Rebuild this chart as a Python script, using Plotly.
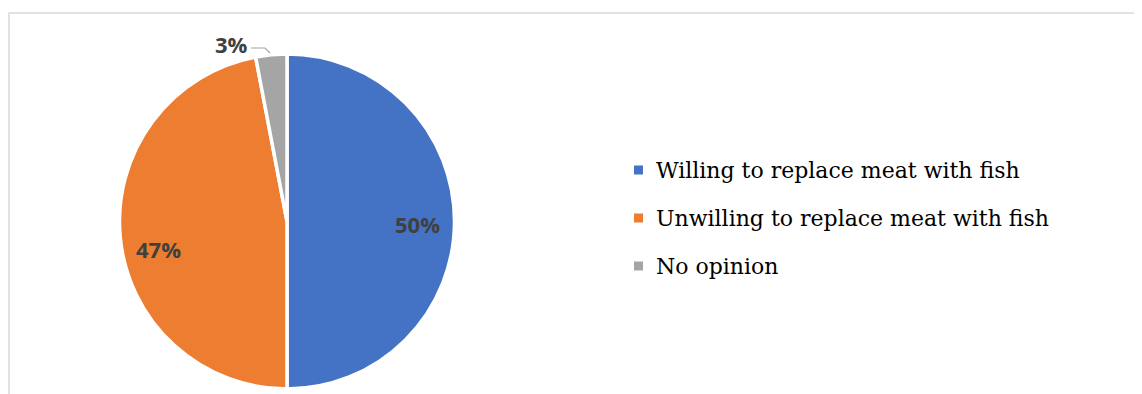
import plotly.graph_objects as go

labels = ["Willing to replace meat with fish", "Unwilling to replace meat with fish", "No opinion"]
values = [50, 47, 3]
colors = ["#4472C4", "#ED7D31", "#A5A5A5"]

W, H = 1142, 394
OFF = 8  # page body margin in the browser


def px(x):
    return (x - OFF) / W


def py(y):
    return 1 - (y - OFF) / H


fig = go.Figure()
fig.add_trace(go.Pie(
    labels=labels, values=values, sort=False, direction="clockwise", rotation=0,
    marker=dict(colors=colors, line=dict(color="white", width=3.5)),
    textinfo="none",
    domain=dict(x=[px(119.5), px(454.5)], y=[py(389), py(54)]),
    showlegend=False, hoverinfo="label+percent",
))

# percentage labels
label_pos = [(417, 224), (158, 249), (231, 44)]
total = sum(values)
for v, (lx, ly) in zip(values, label_pos):
    fig.add_annotation(x=px(lx), y=py(ly), xref="paper", yref="paper",
                       xanchor="center", yanchor="middle",
                       text=f"{round(100 * v / total)}%", showarrow=False,
                       font=dict(family="Open Sans", size=22, color="#404040", weight="bold"))
# leader line for the small slice
fig.add_shape(type="path", xref="paper", yref="paper",
              path=f"M {px(251)} {py(48)} L {px(265)} {py(48)} L {px(270)} {py(53)}",
              line=dict(color="#A5A5A5", width=1.2))

# manual legend
for i, (lab, col) in enumerate(zip(labels, colors)):
    yc = 170 + 48 * i
    fig.add_shape(type="rect", xref="paper", yref="paper",
                  x0=px(634), x1=px(643), y0=py(yc + 4.5), y1=py(yc - 4.5),
                  fillcolor=col, line=dict(width=0))
    fig.add_annotation(x=px(654), y=py(yc), xref="paper", yref="paper",
                       xanchor="left", yanchor="middle", text=lab, showarrow=False,
                       font=dict(family="DejaVu Serif", size=22, color="#000000"))

# chart border
fig.add_shape(type="rect", xref="paper", yref="paper",
              x0=1 / W, x1=1.05, y0=-0.05, y1=py(13),
              line=dict(color="#D9D9D9", width=1.5), fillcolor="rgba(0,0,0,0)")

fig.update_layout(width=W, height=H, margin=dict(l=0, r=0, t=0, b=0),
                  paper_bgcolor="white", plot_bgcolor="white")
fig.write_html("out.html")
